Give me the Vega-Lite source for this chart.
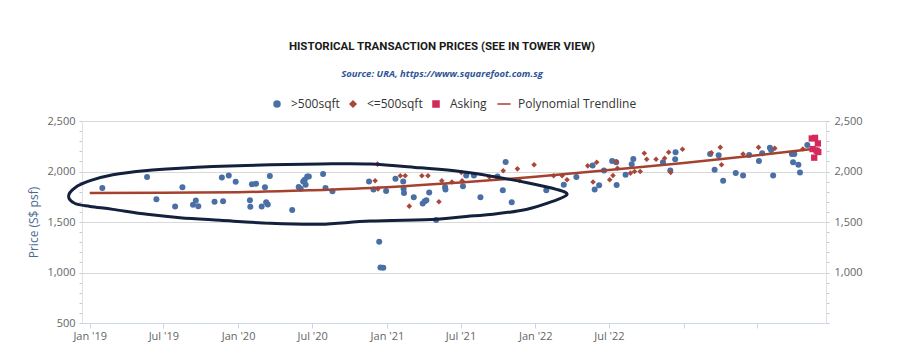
{
  "$schema": "https://vega.github.io/schema/vega-lite/v6.json",
  "width": 744,
  "height": 202,
  "autosize": {"type": "none"},
  "padding": {"left": 82, "top": 121, "right": 74, "bottom": 36},
  "background": "white",
  "title": {
    "text": "HISTORICAL TRANSACTION PRICES (SEE IN TOWER VIEW)",
    "subtitle": "Source: URA, https://www.squarefoot.com.sg",
    "anchor": "middle",
    "dx": -12,
    "offset": 20,
    "font": "Roboto",
    "fontSize": 11.5,
    "fontWeight": "bold",
    "color": "#1a1a1a",
    "subtitleFont": "Open Sans",
    "subtitleFontSize": 9.5,
    "subtitleFontStyle": "italic",
    "subtitleFontWeight": "bold",
    "subtitleColor": "#2f5597",
    "subtitlePadding": 16
  },
  "datasets": {
    "pts": [
      {"date": "2019-02-01", "price": 1837, "type": ">500sqft"},
      {"date": "2019-05-22", "price": 1945, "type": ">500sqft"},
      {"date": "2019-06-14", "price": 1726, "type": ">500sqft"},
      {"date": "2019-07-30", "price": 1654, "type": ">500sqft"},
      {"date": "2019-08-17", "price": 1843, "type": ">500sqft"},
      {"date": "2019-09-12", "price": 1671, "type": ">500sqft"},
      {"date": "2019-09-19", "price": 1713, "type": ">500sqft"},
      {"date": "2019-09-25", "price": 1657, "type": ">500sqft"},
      {"date": "2019-11-04", "price": 1700, "type": ">500sqft"},
      {"date": "2019-11-22", "price": 1941, "type": ">500sqft"},
      {"date": "2019-11-25", "price": 1706, "type": ">500sqft"},
      {"date": "2019-12-09", "price": 1961, "type": ">500sqft"},
      {"date": "2019-12-26", "price": 1899, "type": ">500sqft"},
      {"date": "2020-01-30", "price": 1716, "type": ">500sqft"},
      {"date": "2020-01-31", "price": 1651, "type": ">500sqft"},
      {"date": "2020-02-04", "price": 1873, "type": ">500sqft"},
      {"date": "2020-02-14", "price": 1879, "type": ">500sqft"},
      {"date": "2020-02-28", "price": 1654, "type": ">500sqft"},
      {"date": "2020-03-07", "price": 1843, "type": ">500sqft"},
      {"date": "2020-03-10", "price": 1696, "type": ">500sqft"},
      {"date": "2020-03-14", "price": 1674, "type": ">500sqft"},
      {"date": "2020-03-19", "price": 1955, "type": ">500sqft"},
      {"date": "2020-05-13", "price": 1618, "type": ">500sqft"},
      {"date": "2020-05-29", "price": 1847, "type": ">500sqft"},
      {"date": "2020-06-03", "price": 1828, "type": ">500sqft"},
      {"date": "2020-06-09", "price": 1902, "type": ">500sqft"},
      {"date": "2020-06-13", "price": 1919, "type": ">500sqft"},
      {"date": "2020-06-15", "price": 1870, "type": ">500sqft"},
      {"date": "2020-06-19", "price": 1951, "type": ">500sqft"},
      {"date": "2020-06-23", "price": 1951, "type": ">500sqft"},
      {"date": "2020-07-28", "price": 1975, "type": ">500sqft"},
      {"date": "2020-08-03", "price": 1837, "type": ">500sqft"},
      {"date": "2020-08-20", "price": 1804, "type": ">500sqft"},
      {"date": "2020-11-18", "price": 1902, "type": ">500sqft"},
      {"date": "2020-11-29", "price": 1821, "type": ">500sqft"},
      {"date": "2020-12-13", "price": 1304, "type": ">500sqft"},
      {"date": "2020-12-16", "price": 1049, "type": ">500sqft"},
      {"date": "2020-12-23", "price": 1046, "type": ">500sqft"},
      {"date": "2020-12-30", "price": 1808, "type": ">500sqft"},
      {"date": "2021-01-22", "price": 1928, "type": ">500sqft"},
      {"date": "2021-02-10", "price": 1902, "type": ">500sqft"},
      {"date": "2021-02-11", "price": 1828, "type": ">500sqft"},
      {"date": "2021-02-12", "price": 1788, "type": ">500sqft"},
      {"date": "2021-03-08", "price": 1745, "type": ">500sqft"},
      {"date": "2021-03-30", "price": 1683, "type": ">500sqft"},
      {"date": "2021-04-04", "price": 1706, "type": ">500sqft"},
      {"date": "2021-04-08", "price": 1716, "type": ">500sqft"},
      {"date": "2021-04-15", "price": 1791, "type": ">500sqft"},
      {"date": "2021-05-02", "price": 1520, "type": ">500sqft"},
      {"date": "2021-05-24", "price": 1847, "type": ">500sqft"},
      {"date": "2021-05-25", "price": 1821, "type": ">500sqft"},
      {"date": "2021-07-07", "price": 1853, "type": ">500sqft"},
      {"date": "2021-07-15", "price": 1961, "type": ">500sqft"},
      {"date": "2021-08-03", "price": 1961, "type": ">500sqft"},
      {"date": "2021-08-19", "price": 1745, "type": ">500sqft"},
      {"date": "2021-09-30", "price": 1951, "type": ">500sqft"},
      {"date": "2021-10-13", "price": 1814, "type": ">500sqft"},
      {"date": "2021-10-20", "price": 2095, "type": ">500sqft"},
      {"date": "2021-11-04", "price": 1696, "type": ">500sqft"},
      {"date": "2022-01-28", "price": 1814, "type": ">500sqft"},
      {"date": "2022-03-12", "price": 1870, "type": ">500sqft"},
      {"date": "2022-04-12", "price": 1945, "type": ">500sqft"},
      {"date": "2022-05-22", "price": 2059, "type": ">500sqft"},
      {"date": "2022-05-27", "price": 1821, "type": ">500sqft"},
      {"date": "2022-06-07", "price": 1863, "type": ">500sqft"},
      {"date": "2022-06-19", "price": 2010, "type": ">500sqft"},
      {"date": "2022-07-09", "price": 2105, "type": ">500sqft"},
      {"date": "2022-07-19", "price": 2092, "type": ">500sqft"},
      {"date": "2022-07-20", "price": 1867, "type": ">500sqft"},
      {"date": "2022-08-11", "price": 1968, "type": ">500sqft"},
      {"date": "2022-08-26", "price": 2073, "type": ">500sqft"},
      {"date": "2022-08-30", "price": 2124, "type": ">500sqft"},
      {"date": "2022-11-11", "price": 2092, "type": ">500sqft"},
      {"date": "2022-11-29", "price": 2010, "type": ">500sqft"},
      {"date": "2022-12-11", "price": 2122, "type": ">500sqft"},
      {"date": "2022-12-12", "price": 2190, "type": ">500sqft"},
      {"date": "2023-03-07", "price": 2173, "type": ">500sqft"},
      {"date": "2023-03-18", "price": 2017, "type": ">500sqft"},
      {"date": "2023-03-28", "price": 2161, "type": ">500sqft"},
      {"date": "2023-04-08", "price": 1909, "type": ">500sqft"},
      {"date": "2023-05-09", "price": 1984, "type": ">500sqft"},
      {"date": "2023-05-27", "price": 1961, "type": ">500sqft"},
      {"date": "2023-06-11", "price": 2164, "type": ">500sqft"},
      {"date": "2023-07-05", "price": 2105, "type": ">500sqft"},
      {"date": "2023-07-13", "price": 2180, "type": ">500sqft"},
      {"date": "2023-08-01", "price": 2235, "type": ">500sqft"},
      {"date": "2023-08-04", "price": 2213, "type": ">500sqft"},
      {"date": "2023-08-09", "price": 1961, "type": ">500sqft"},
      {"date": "2023-09-24", "price": 2173, "type": ">500sqft"},
      {"date": "2023-09-27", "price": 2092, "type": ">500sqft"},
      {"date": "2023-09-30", "price": 2173, "type": ">500sqft"},
      {"date": "2023-10-10", "price": 2066, "type": ">500sqft"},
      {"date": "2023-10-14", "price": 1990, "type": ">500sqft"},
      {"date": "2023-11-01", "price": 2262, "type": ">500sqft"},
      {"date": "2020-12-03", "price": 1908, "type": "<=500sqft"},
      {"date": "2020-12-09", "price": 2073, "type": "<=500sqft"},
      {"date": "2020-12-10", "price": 1828, "type": "<=500sqft"},
      {"date": "2021-02-03", "price": 1958, "type": "<=500sqft"},
      {"date": "2021-02-15", "price": 1958, "type": "<=500sqft"},
      {"date": "2021-02-25", "price": 1657, "type": "<=500sqft"},
      {"date": "2021-03-28", "price": 1958, "type": "<=500sqft"},
      {"date": "2021-04-12", "price": 1958, "type": "<=500sqft"},
      {"date": "2021-05-09", "price": 1700, "type": "<=500sqft"},
      {"date": "2021-05-16", "price": 1909, "type": "<=500sqft"},
      {"date": "2021-06-10", "price": 1896, "type": "<=500sqft"},
      {"date": "2021-07-03", "price": 1990, "type": "<=500sqft"},
      {"date": "2021-07-05", "price": 1909, "type": "<=500sqft"},
      {"date": "2021-09-10", "price": 1945, "type": "<=500sqft"},
      {"date": "2021-10-14", "price": 2007, "type": "<=500sqft"},
      {"date": "2021-11-18", "price": 2026, "type": "<=500sqft"},
      {"date": "2021-11-23", "price": 1912, "type": "<=500sqft"},
      {"date": "2021-12-29", "price": 2066, "type": "<=500sqft"},
      {"date": "2022-02-15", "price": 1958, "type": "<=500sqft"},
      {"date": "2022-03-08", "price": 1958, "type": "<=500sqft"},
      {"date": "2022-03-20", "price": 1919, "type": "<=500sqft"},
      {"date": "2022-05-10", "price": 2056, "type": "<=500sqft"},
      {"date": "2022-05-23", "price": 1896, "type": "<=500sqft"},
      {"date": "2022-06-01", "price": 2092, "type": "<=500sqft"},
      {"date": "2022-07-03", "price": 1919, "type": "<=500sqft"},
      {"date": "2022-07-11", "price": 1961, "type": "<=500sqft"},
      {"date": "2022-07-19", "price": 2098, "type": "<=500sqft"},
      {"date": "2022-07-22", "price": 2033, "type": "<=500sqft"},
      {"date": "2022-08-23", "price": 1984, "type": "<=500sqft"},
      {"date": "2022-09-02", "price": 2000, "type": "<=500sqft"},
      {"date": "2022-09-16", "price": 2000, "type": "<=500sqft"},
      {"date": "2022-09-26", "price": 2180, "type": "<=500sqft"},
      {"date": "2022-10-02", "price": 2122, "type": "<=500sqft"},
      {"date": "2022-10-25", "price": 2122, "type": "<=500sqft"},
      {"date": "2022-11-15", "price": 2131, "type": "<=500sqft"},
      {"date": "2022-11-25", "price": 2190, "type": "<=500sqft"},
      {"date": "2022-11-30", "price": 1990, "type": "<=500sqft"},
      {"date": "2022-12-29", "price": 2220, "type": "<=500sqft"},
      {"date": "2023-03-10", "price": 2186, "type": "<=500sqft"},
      {"date": "2023-04-01", "price": 2239, "type": "<=500sqft"},
      {"date": "2023-04-04", "price": 2066, "type": "<=500sqft"},
      {"date": "2023-05-27", "price": 2173, "type": "<=500sqft"},
      {"date": "2023-07-04", "price": 2239, "type": "<=500sqft"},
      {"date": "2023-08-13", "price": 2229, "type": "<=500sqft"},
      {"date": "2023-10-21", "price": 2222, "type": "<=500sqft"}
    ],
    "asking": [
      {"date": "2023-11-12", "price": 2327, "type": "Asking"},
      {"date": "2023-11-20", "price": 2333, "type": "Asking"},
      {"date": "2023-11-27", "price": 2278, "type": "Asking"},
      {"date": "2023-11-14", "price": 2222, "type": "Asking"},
      {"date": "2023-11-24", "price": 2206, "type": "Asking"},
      {"date": "2023-11-28", "price": 2193, "type": "Asking"},
      {"date": "2023-11-18", "price": 2137, "type": "Asking"}
    ],
    "trend": [
      {"date": "2019-01-01", "price": 1788, "type": "Polynomial Trendline"},
      {"date": "2019-07-01", "price": 1790, "type": "Polynomial Trendline"},
      {"date": "2020-01-01", "price": 1795, "type": "Polynomial Trendline"},
      {"date": "2020-07-01", "price": 1815, "type": "Polynomial Trendline"},
      {"date": "2021-01-01", "price": 1845, "type": "Polynomial Trendline"},
      {"date": "2021-07-01", "price": 1890, "type": "Polynomial Trendline"},
      {"date": "2022-01-01", "price": 1948, "type": "Polynomial Trendline"},
      {"date": "2022-07-01", "price": 2015, "type": "Polynomial Trendline"},
      {"date": "2023-01-01", "price": 2085, "type": "Polynomial Trendline"},
      {"date": "2023-07-01", "price": 2160, "type": "Polynomial Trendline"},
      {"date": "2023-11-27", "price": 2228, "type": "Polynomial Trendline"}
    ],
    "oval": [
      {"i": 0, "date": "2022-03-20", "price": 1772},
      {"i": 1, "date": "2022-02-24", "price": 1821},
      {"i": 2, "date": "2021-12-12", "price": 1889},
      {"i": 3, "date": "2021-09-19", "price": 1951},
      {"i": 4, "date": "2021-06-30", "price": 2000},
      {"i": 5, "date": "2021-03-24", "price": 2036},
      {"i": 6, "date": "2020-11-21", "price": 2075},
      {"i": 7, "date": "2020-07-21", "price": 2075},
      {"i": 8, "date": "2020-03-20", "price": 2066},
      {"i": 9, "date": "2019-10-31", "price": 2049},
      {"i": 10, "date": "2019-08-11", "price": 2033},
      {"i": 11, "date": "2019-05-22", "price": 2010},
      {"i": 12, "date": "2019-02-27", "price": 1968},
      {"i": 13, "date": "2019-01-02", "price": 1909},
      {"i": 14, "date": "2018-11-26", "price": 1840},
      {"i": 15, "date": "2018-11-10", "price": 1755},
      {"i": 16, "date": "2018-11-26", "price": 1683},
      {"i": 17, "date": "2019-01-02", "price": 1654},
      {"i": 18, "date": "2019-02-27", "price": 1625},
      {"i": 19, "date": "2019-05-22", "price": 1576},
      {"i": 20, "date": "2019-08-11", "price": 1543},
      {"i": 21, "date": "2019-11-18", "price": 1517},
      {"i": 22, "date": "2020-03-20", "price": 1487},
      {"i": 23, "date": "2020-07-21", "price": 1478},
      {"i": 24, "date": "2020-11-21", "price": 1510},
      {"i": 25, "date": "2021-05-04", "price": 1527},
      {"i": 26, "date": "2021-07-25", "price": 1559},
      {"i": 27, "date": "2021-09-19", "price": 1576},
      {"i": 28, "date": "2021-12-12", "price": 1627},
      {"i": 29, "date": "2022-02-14", "price": 1706}
    ]
  },
  "layer": [
    {
      "data": {"name": "pts"},
      "mark": {"type": "point", "filled": true, "opacity": 1},
      "encoding": {
        "x": {
          "field": "date", "type": "temporal",
          "scale": {"domain": ["2018-12-13", "2023-12-17"]},
          "axis": {
            "title": null,
            "values": ["2019-01-01", "2019-07-01", "2020-01-01", "2020-07-01", "2021-01-01", "2021-07-01", "2022-01-01", "2022-07-01", "2023-01-01", "2023-07-01"],
            "labelExpr": "year(datum.value) >= 2023 ? '' : timeFormat(datum.value, \"%b '%y\")",
            "grid": false,
            "domainColor": "#ccd6eb",
            "tickColor": "#ccd6eb",
            "tickSize": 5,
            "labelColor": "#666666",
            "labelFont": "Open Sans",
            "labelFontSize": 11,
            "labelPadding": 2,
            "labelOverlap": false
          }
        },
        "y": {
          "field": "price", "type": "quantitative",
          "scale": {"domain": [500, 2500], "nice": false, "zero": false},
          "axis": {
            "orient": "left",
            "title": "Price (S$ psf)",
            "titleColor": "#4d6a94",
            "titleFont": "Open Sans",
            "titleFontSize": 12,
            "titleFontWeight": "normal",
            "titlePadding": 6,
            "values": [500, 600, 700, 800, 900, 1000, 1100, 1200, 1300, 1400, 1500, 1600, 1700, 1800, 1900, 2000, 2100, 2200, 2300, 2400, 2500],
            "labelExpr": "datum.value % 500 === 0 ? format(datum.value, ',') : ''",
            "labelOverlap": false,
            "labelBound": false,
            "labelColor": "#666666",
            "labelFont": "Open Sans",
            "labelFontSize": 11,
            "labelPadding": 4,
            "grid": true,
            "gridColor": "#d9d9d9",
            "gridOpacity": {"condition": {"test": "datum.value % 500 === 0", "value": 1}, "value": 0},
            "domainColor": "#e0e0e0",
            "tickColor": "#c8c8d8",
            "tickSize": 3
          }
        },
        "color": {
          "field": "type", "type": "nominal",
          "scale": {
            "domain": [">500sqft", "<=500sqft", "Asking", "Polynomial Trendline"],
            "range": ["#4a6fa5", "#a9473a", "#d42a5b", "#a5412f"]
          },
          "legend": {
            "title": null,
            "orient": "none",
            "legendX": 189,
            "legendY": -23,
            "direction": "horizontal",
            "columns": 4,
            "padding": 0,
            "symbolSize": 36,
            "columnPadding": 7,
            "labelFont": "Open Sans",
            "labelFontSize": 12,
            "labelColor": "#333333",
            "labelOffset": 8,
            "encode": {
              "symbols": {
                "update": {
                  "stroke": {"scale": "color", "field": "value"},
                  "strokeWidth": [{"test": "datum.value === 'Polynomial Trendline'", "value": 3}, {"value": 0}]
                }
              }
            }
          }
        },
        "shape": {
          "field": "type", "type": "nominal",
          "scale": {
            "domain": [">500sqft", "<=500sqft", "Asking", "Polynomial Trendline"],
            "range": ["circle", "diamond", "square", "M-2.2,0H2.2"]
          },
          "legend": {"title": null}
        },
        "size": {
          "field": "type", "type": "nominal",
          "scale": {"domain": [">500sqft", "<=500sqft", "Asking"], "range": [36, 26, 40]},
          "legend": null
        }
      }
    },
    {
      "data": {"name": "trend"},
      "mark": {"type": "line", "strokeWidth": 2.5, "interpolate": "monotone"},
      "encoding": {
        "x": {"field": "date", "type": "temporal"},
        "y": {
          "field": "price", "type": "quantitative",
          "axis": {
            "orient": "right",
            "title": null,
            "values": [500, 600, 700, 800, 900, 1000, 1100, 1200, 1300, 1400, 1500, 1600, 1700, 1800, 1900, 2000, 2100, 2200, 2300, 2400, 2500],
            "labelExpr": "datum.value % 500 === 0 && datum.value > 500 ? format(datum.value, ',') : ''",
            "labelOverlap": false,
            "labelBound": false,
            "labelColor": "#666666",
            "labelFont": "Open Sans",
            "labelFontSize": 11,
            "labelPadding": 5,
            "grid": false,
            "domainColor": "#e0e0e0",
            "tickColor": "#c8c8d8",
            "tickSize": 3
          }
        },
        "color": {"field": "type", "type": "nominal"}
      }
    },
    {
      "data": {"name": "asking"},
      "mark": {"type": "point", "filled": true, "opacity": 1, "shape": "square", "size": 40},
      "encoding": {
        "x": {"field": "date", "type": "temporal"},
        "y": {"field": "price", "type": "quantitative", "axis": null},
        "color": {"field": "type", "type": "nominal"},
        "shape": {"field": "type", "type": "nominal"}
      }
    },
    {
      "data": {"name": "oval"},
      "mark": {"type": "line", "color": "#14213d", "strokeWidth": 3, "interpolate": "cardinal-closed"},
      "encoding": {
        "x": {"field": "date", "type": "temporal"},
        "y": {"field": "price", "type": "quantitative", "axis": null},
        "order": {"field": "i", "type": "quantitative"}
      }
    }
  ],
  "resolve": {"axis": {"y": "independent"}},
  "config": {
    "view": {"stroke": null}
  }
}
